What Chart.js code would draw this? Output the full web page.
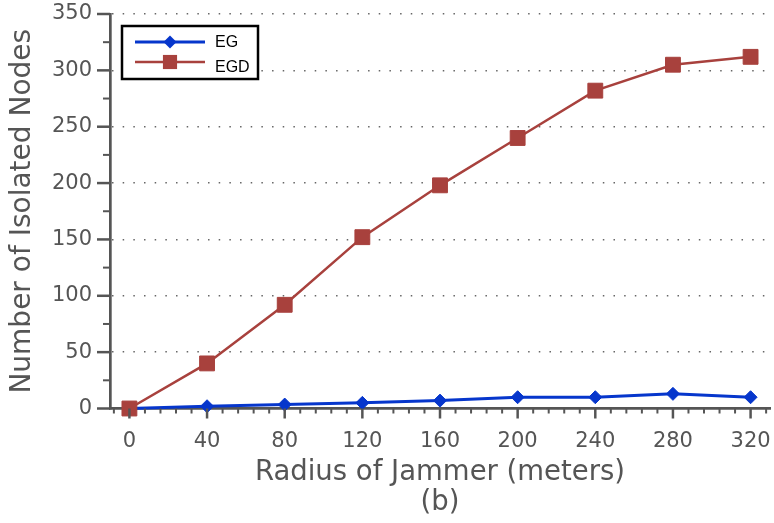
<!DOCTYPE html>
<html>
<head>
<meta charset="utf-8">
<script src="https://cdn.jsdelivr.net/npm/chart.js@4/dist/chart.umd.min.js"></script>
<style>
  html, body { margin: 0; padding: 0; background: #fff; }
  #wrap { width: 774px; height: 523px; }
</style>
</head>
<body>
<div id="wrap"><canvas id="jammer_chart"></canvas></div>
<script>
const radius = [0, 40, 80, 120, 160, 200, 240, 280, 320];
const eg_nodes = [0, 2, 3.5, 5, 7, 10, 10, 13, 10];
const egd_nodes = [0, 40, 92, 152, 198, 240, 282, 305, 312];
const x_ticks = [0, 40, 80, 120, 160, 200, 240, 280, 320];
const y_ticks = [0, 50, 100, 150, 200, 250, 300, 350];

const eg_color = '#0636cc';
const egd_color = '#a8413d';
const axis_color = '#555555';
const font_family = '"DejaVu Sans", sans-serif';

// tick marks on the outside of both axes, major and minor
const axis_ticks = {
	id: 'axis_ticks',
	afterDraw(chart) {
		const ctx = chart.ctx;
		const xs = chart.scales.x;
		const ys = chart.scales.y;
		const area = chart.chartArea;
		ctx.save();
		ctx.strokeStyle = axis_color;
		for (let v = 0; v <= 350; v += 25) {
			const major = v % 50 === 0;
			const py = ys.getPixelForValue(v);
			ctx.lineWidth = major ? 2.5 : 2;
			ctx.beginPath();
			ctx.moveTo(area.left - (major ? 13 : 7), py);
			ctx.lineTo(area.left, py);
			ctx.stroke();
		}
		for (let v = -8; v <= 328; v += 8) {
			const major = v % 40 === 0;
			const px = xs.getPixelForValue(v);
			ctx.lineWidth = major ? 2.5 : 2;
			ctx.beginPath();
			ctx.moveTo(px, area.bottom);
			ctx.lineTo(px, area.bottom + (major ? 10 : 5));
			ctx.stroke();
		}
		ctx.restore();
	}
};

function draw_marker(ctx, style, x, y, r, color) {
	ctx.fillStyle = color;
	ctx.beginPath();
	if (style === 'rectRot') {
		ctx.moveTo(x, y - r);
		ctx.lineTo(x + r, y);
		ctx.lineTo(x, y + r);
		ctx.lineTo(x - r, y);
	} else {
		const s = r * Math.SQRT1_2;
		ctx.rect(x - s, y - s, 2 * s, 2 * s);
	}
	ctx.closePath();
	ctx.fill();
}

// boxed legend in the upper left corner of the plot
const box_legend = {
	id: 'box_legend',
	afterDraw(chart) {
		const ctx = chart.ctx;
		const left = chart.chartArea.left + 12;
		const top = chart.chartArea.top + 12;
		ctx.save();
		ctx.fillStyle = '#fff';
		ctx.fillRect(left, top, 136, 53);
		ctx.strokeStyle = '#000';
		ctx.lineWidth = 2.5;
		ctx.strokeRect(left, top, 136, 53);
		const rows = [{y: top + 16, ty: top + 17}, {y: top + 36, ty: top + 42}];
		chart.data.datasets.forEach((ds, i) => {
			const row = rows[i];
			ctx.strokeStyle = ds.borderColor;
			ctx.lineWidth = ds.borderWidth;
			ctx.beginPath();
			ctx.moveTo(left + 13, row.y);
			ctx.lineTo(left + 83, row.y);
			ctx.stroke();
			draw_marker(ctx, ds.pointStyle, left + 48, row.y, ds.pointStyle === 'rect' ? 10 : 6.5, ds.borderColor);
			ctx.fillStyle = '#000';
			ctx.font = '16px "Liberation Sans", Arial, sans-serif';
			ctx.textBaseline = 'middle';
			ctx.fillText(ds.label, left + 93, row.ty);
		});
		ctx.restore();
	}
};

const jammer_chart = new Chart(
	document.getElementById('jammer_chart').getContext('2d'),
	{
		type: 'line',
		data: {
			datasets: [{
					label: 'EG',
					data: radius.map((r, i) => ({x: r, y: eg_nodes[i]})),
					borderColor: eg_color,
					backgroundColor: eg_color,
					borderWidth: 3,
					pointStyle: 'rectRot',
					pointRadius: 6.5,
					pointBorderWidth: 1,
					clip: false,
					order: 1
				}, {
					label: 'EGD',
					data: radius.map((r, i) => ({x: r, y: egd_nodes[i]})),
					borderColor: egd_color,
					backgroundColor: egd_color,
					borderWidth: 2.5,
					pointStyle: 'rect',
					pointRadius: 10.5,
					pointBorderWidth: 1,
					clip: false,
					order: 0
				}]
		},
		options: {
			responsive: true,
			maintainAspectRatio: false,
			animation: false,
			layout: {
				autoPadding: false,
				padding: {top: 14, right: 4, left: 0, bottom: 0}
			},
			scales: {
				x: {
					type: 'linear',
					min: -10,
					max: 330,
					afterBuildTicks: (scale) => {
						scale.ticks = x_ticks.map(v => ({value: v}));
					},
					afterFit: (scale) => {
						scale.height = 80.5;
						scale.paddingLeft = 0;
						scale.paddingRight = 0;
					},
					ticks: {
						color: axis_color,
						font: {family: font_family, size: 21},
						padding: 20,
						maxRotation: 0
					},
					grid: {display: false, drawTicks: false},
					border: {display: true, color: axis_color, width: 2.7},
					title: {
						display: true,
						text: 'Radius of Jammer (meters)',
						color: axis_color,
						font: {family: font_family, size: 27.5},
						padding: {top: 0, bottom: 0}
					}
				},
				y: {
					min: 0,
					max: 350,
					afterBuildTicks: (scale) => {
						scale.ticks = y_ticks.map(v => ({value: v}));
					},
					afterFit: (scale) => {
						scale.width = 110;
						scale.paddingTop = 0;
						scale.paddingBottom = 0;
					},
					ticks: {
						color: axis_color,
						font: {family: font_family, size: 21},
						padding: 18
					},
					grid: {
						drawTicks: false,
						color: (c) => c.tick && c.tick.value === 0 ? 'rgba(0,0,0,0)' : '#666666',
						lineWidth: 1.5
					},
					border: {display: true, color: axis_color, width: 2.7, dash: [1.5, 9.17], dashOffset: -0.3},
					title: {
						display: true,
						text: 'Number of Isolated Nodes',
						color: axis_color,
						font: {family: font_family, size: 28},
						padding: {top: 6, bottom: 0}
					}
				}
			},
			plugins: {
				legend: {display: false},
				tooltip: {enabled: false},
				title: {
					display: true,
					position: 'bottom',
					fullSize: false,
					text: '(b)',
					color: axis_color,
					font: {family: font_family, size: 27.5, weight: 'normal', lineHeight: 1},
					padding: {top: 0, bottom: 6.5}
				}
			}
		},
		plugins: [axis_ticks, box_legend],
	}
);
</script>
</body>
</html>
